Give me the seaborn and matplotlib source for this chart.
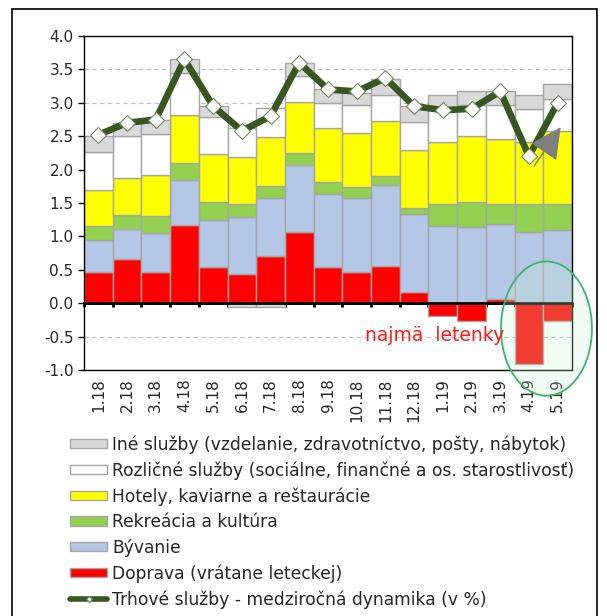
import numpy as np
import matplotlib
matplotlib.use("Agg")
import matplotlib.pyplot as plt
import matplotlib.patches as mpatches
from matplotlib.lines import Line2D
import seaborn as sns

# months on the x axis
months = ['1.18', '2.18', '3.18', '4.18', '5.18', '6.18', '7.18', '8.18', '9.18',
          '10.18', '11.18', '12.18', '1.19', '2.19', '3.19', '4.19', '5.19']

# contributions (p.b.), stacked from the bottom
doprava = [0.47, 0.66, 0.47, 1.17, 0.54, 0.43, 0.70, 1.07, 0.54, 0.46, 0.56, 0.17,
           -0.19, -0.27, 0.06, -0.91, -0.27]
byvanie = [0.47, 0.45, 0.58, 0.68, 0.71, 0.86, 0.87, 1.00, 1.09, 1.11, 1.21, 1.17,
           1.16, 1.14, 1.12, 1.07, 1.10]
rekreacia = [0.22, 0.21, 0.25, 0.25, 0.26, 0.20, 0.19, 0.18, 0.18, 0.17, 0.14, 0.09,
             0.33, 0.37, 0.30, 0.41, 0.39]
hotely = [0.53, 0.55, 0.62, 0.71, 0.73, 0.70, 0.73, 0.76, 0.82, 0.81, 0.82, 0.87,
          0.92, 1.00, 0.98, 0.94, 1.09]
rozlicne = [0.58, 0.64, 0.61, 0.64, 0.54, 0.43, 0.43, 0.39, 0.37, 0.42, 0.38, 0.41,
            0.52, 0.46, 0.51, 0.49, 0.48]
ine = [0.23, 0.19, 0.22, 0.20, 0.17, -0.06, -0.06, 0.20, 0.21, 0.18, 0.25, 0.24,
       0.18, 0.20, 0.20, 0.20, 0.22]

# market services, y/y in %
trhove = [2.52, 2.70, 2.75, 3.65, 2.95, 2.58, 2.80, 3.60, 3.20, 3.17, 3.37, 2.95,
          2.89, 2.91, 3.17, 2.20, 3.00]

series = [
    ('Doprava (vrátane leteckej)', doprava, '#ff0000'),
    ('Bývanie', byvanie, '#b4c7e7'),
    ('Rekreácia a kultúra', rekreacia, '#92d050'),
    ('Hotely, kaviarne a reštaurácie', hotely, '#ffff00'),
    ('Rozličné služby (sociálne, finančné a os. starostlivosť)', rozlicne, '#ffffff'),
    ('Iné služby (vzdelanie, zdravotníctvo, pošty, nábytok)', ine, '#d9d9d9'),
]

sns.set_theme(style="white")
plt.rcParams['font.family'] = ['DejaVu Sans']

fig = plt.figure(figsize=(6.07, 6.16), dpi=100)
ax = fig.add_axes([84 / 607, 1 - 370 / 616, 488 / 607, 334 / 616])

x = np.arange(len(months))
pos_base = np.zeros(len(months))
neg_base = np.zeros(len(months))
handles = []
for name, vals, col in series:
    v = np.array(vals)
    bottom = np.where(v >= 0, pos_base, neg_base)
    ax.bar(x, v, bottom=bottom, width=1.0, color=col, edgecolor='#a6a6a6',
           linewidth=1, zorder=2)
    pos_base = pos_base + np.where(v >= 0, v, 0)
    neg_base = neg_base + np.where(v < 0, v, 0)
    handles.append(mpatches.Patch(facecolor=col, edgecolor='#a6a6a6', label=name))

sns.lineplot(x=x, y=trhove, ax=ax, color='#38561f', linewidth=4.8, marker='D',
             markersize=8.5, markerfacecolor='white', markeredgecolor='#6d8a5a',
             markeredgewidth=0.8, zorder=4)

ax.axhline(0, color='black', linewidth=2, zorder=3)

ax.set_xlim(-0.5, len(months) - 0.5)
ax.set_ylim(-1.0, 4.0)
ax.set_yticks(np.arange(-1.0, 4.01, 0.5))
ax.set_yticklabels([f'{t:.1f}' for t in np.arange(-1.0, 4.01, 0.5)], fontsize=11)
ax.set_xticks(x)
ax.set_xticklabels(months, rotation=90, fontsize=11)
ax.tick_params(axis='x', length=0, pad=6)
ax.tick_params(axis='y', direction='out', length=4, width=1, color='black', left=True)
ax.yaxis.grid(True, linestyle=(0, (4, 3)), color='#c0c0c0', linewidth=0.8)
ax.set_axisbelow(True)
for s in ax.spines.values():
    s.set_color('black')
    s.set_linewidth(1)

# tick marks on the zero line
sec = ax.secondary_xaxis(0.2)
sec.set_xticks(np.arange(-0.5, len(months), 1.0))
sec.set_xticklabels([])
sec.tick_params(direction='out', length=3, width=2, color='black')
sec.spines['bottom'].set_linewidth(2)

# highlight of the last two months
ell = mpatches.Ellipse((15.61, -0.38), width=3.17, height=2.01,
                       facecolor=(196 / 255, 240 / 255, 200 / 255, 0.25),
                       edgecolor='#3cb371', linewidth=1.3, clip_on=False, zorder=5)
ax.add_patch(ell)
ax.text(11.7, -0.48, 'najmä  letenky', color='#ff1a1a', fontsize=13.5,
        ha='center', va='center', zorder=6)
ax.annotate('', xy=(16.16, 2.67), xytext=(15.13, 2.02),
            arrowprops=dict(arrowstyle='-|>,head_length=0.9,head_width=0.45',
                            color='#7f7f7f', lw=1, mutation_scale=22), zorder=6)

line_handle = Line2D([], [], color='#38561f', linewidth=4, marker='D', markersize=3,
                     markerfacecolor='white', markeredgecolor='#6d8a5a',
                     label='Trhové služby - medziročná dynamika (v %)')
leg_handles = handles[::-1] + [line_handle]
fig.legend(handles=leg_handles, loc='upper left', bbox_to_anchor=(70 / 607, 1 - 435 / 616),
           frameon=False, fontsize=12.3, handlelength=2.17, handleheight=0.5,
           handletextpad=0.3, labelspacing=0.44, borderpad=0, borderaxespad=0)

# outer frame
fig.patches.append(mpatches.Rectangle((12 / 607, -0.05), 585 / 607, 1 - 9 / 616 + 0.05,
                                      transform=fig.transFigure, fill=False,
                                      edgecolor='black', linewidth=1.2))

fig.savefig('out.png', dpi=100)
